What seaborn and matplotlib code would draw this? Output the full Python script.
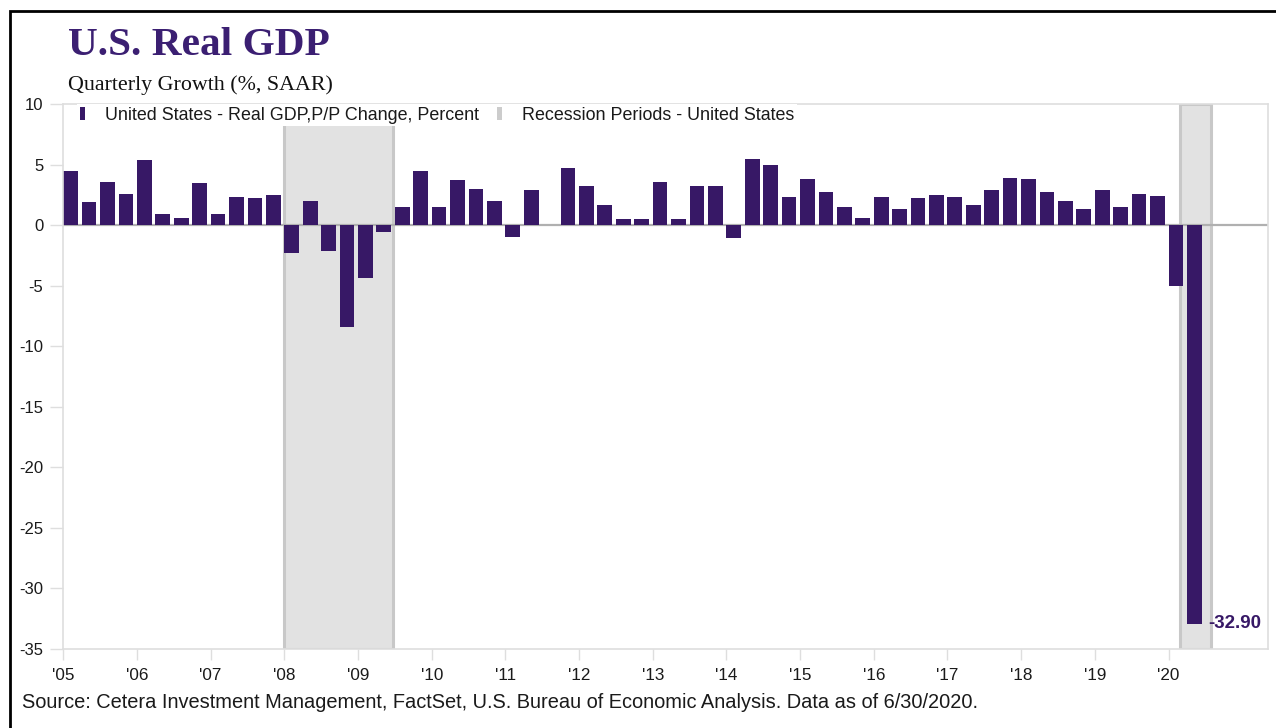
import matplotlib
matplotlib.use("Agg")
import matplotlib.pyplot as plt
import seaborn as sns
import pandas as pd
from matplotlib.patches import Patch, Rectangle

# ---------------- data ----------------
start_year = 2005
gdp_growth = [4.5, 1.9, 3.6, 2.6, 5.4, 0.9, 0.6, 3.5, 0.9, 2.3, 2.2, 2.5,
              -2.3, 2.0, -2.1, -8.4, -4.4, -0.6, 1.5, 4.5, 1.5, 3.7, 3.0, 2.0,
              -1.0, 2.9, 0.0, 4.7, 3.2, 1.7, 0.5, 0.5, 3.6, 0.5, 3.2, 3.2,
              -1.1, 5.5, 5.0, 2.3, 3.8, 2.7, 1.5, 0.6, 2.3, 1.3, 2.2, 2.5,
              2.3, 1.7, 2.9, 3.9, 3.8, 2.7, 2.0, 1.3, 2.9, 1.5, 2.6, 2.4,
              -5.0, -32.9]
quarters = [f"{start_year + i // 4}Q{i % 4 + 1}" for i in range(len(gdp_growth))]
recession_start = [2008.0, 2020.16]
recession_end = [2009.47, 2020.58]
year_ticks = list(range(2005, 2021))
year_labels = [f"'{y % 100:02d}" for y in year_ticks]
y_ticks = [10, 5, 0, -5, -10, -15, -20, -25, -30, -35]

title = "U.S. Real GDP"
subtitle = "Quarterly Growth (%, SAAR)"
series_label = "United States - Real GDP,P/P Change, Percent"
recession_label = "Recession Periods - United States"
source = ("Source: Cetera Investment Management, FactSet, U.S. Bureau of Economic "
          "Analysis. Data as of 6/30/2020.")

# quarter -> fractional year (bars drawn from the start of each quarter)
def q_to_x(q):
    y, qq = q.split("Q")
    return int(y) + (int(qq) - 1) * 0.25 + 0.1

df = pd.DataFrame({"quarter": quarters, "value": gdp_growth})
df["x"] = df["quarter"].map(q_to_x)

# ---------------- style ----------------
sns.set_style("white")
plt.rcParams["font.family"] = ["Liberation Sans", "DejaVu Sans"]

PURPLE = "#371866"
TITLE_PURPLE = "#3b1f72"
GRID = "#dedede"
TEXT = "#1a1a1a"

W, H = 1276, 728
fig = plt.figure(figsize=(W / 100, H / 100), dpi=100)
ax = fig.add_axes([63.3 / W, 1 - 649 / H, (1268 - 63.3) / W, (649 - 104) / H])

# recession shading
for s, e in zip(recession_start, recession_end):
    ax.axvspan(s, e, facecolor="#e2e2e2", edgecolor="#c8c8c8", linewidth=2.2, zorder=0)

# zero line
ax.axhline(0, color="#b0b0b0", linewidth=1.6, zorder=1)

sns.barplot(data=df, x="x", y="value", native_scale=True, orient="x",
            color=PURPLE, saturation=1, width=0.8, errorbar=None,
            linewidth=0, ax=ax, zorder=2)

ax.set_xlim(2005.0, 2021.35)
ax.set_ylim(-35, 10)
ax.set_xticks(year_ticks)
ax.set_xticklabels(year_labels)
ax.set_yticks(y_ticks)
ax.set_yticklabels([str(t) for t in y_ticks])
ax.set_xlabel("")
ax.set_ylabel("")

for sp in ax.spines.values():
    sp.set_color(GRID)
    sp.set_linewidth(1.2)
    sp.set_visible(True)

ax.tick_params(axis="y", left=True, length=9.5, width=1, color=GRID, pad=5,
               labelsize=12, labelcolor=TEXT)
ax.tick_params(axis="x", bottom=True, length=8, width=1, color=GRID, pad=6,
               labelsize=12.3, labelcolor=TEXT)

# annotation of the last value
last = df.iloc[-1]
ax.annotate(f"{last['value']:.2f}", xy=(last["x"] + 0.1, last["value"]),
            xytext=(5, 0), textcoords="offset points", ha="left", va="center",
            fontsize=13.5, fontweight="bold", color=PURPLE, zorder=5)

# legend
handles = [Patch(facecolor=PURPLE, edgecolor="none", label=series_label),
           Patch(facecolor="#cccccc", edgecolor="none", label=recession_label)]
leg = ax.legend(handles=handles, loc="upper left", bbox_to_anchor=(0.0115, 1.0),
                ncol=2, frameon=True, facecolor="white", edgecolor="none",
                framealpha=1, fancybox=False, fontsize=12.9,
                handlelength=0.3, handleheight=0.75, handletextpad=1.1,
                columnspacing=1.0, borderpad=0.15, borderaxespad=0)
for t in leg.get_texts():
    t.set_color(TEXT)
leg.set_zorder(4)

# titles and source
fig.text(68 / W, 1 - 55 / H, title, fontsize=29.7, fontweight="bold",
         color=TITLE_PURPLE, family=["Liberation Serif", "DejaVu Serif"],
         ha="left", va="baseline")
fig.text(68 / W, 1 - 90 / H, subtitle, fontsize=15.8,
         color="#111111", family=["Liberation Serif", "DejaVu Serif"],
         ha="left", va="baseline")
fig.text(22 / W, 1 - 708 / H, source, fontsize=14.4, color=TEXT,
         ha="left", va="baseline")

# outer frame
fig.patches.append(Rectangle((10 / W, -0.05), 1.2, 1.05 - 11 / H,
                             transform=fig.transFigure, fill=False,
                             edgecolor="black", linewidth=2.0))

fig.savefig("out.png", dpi=100, facecolor="white")
